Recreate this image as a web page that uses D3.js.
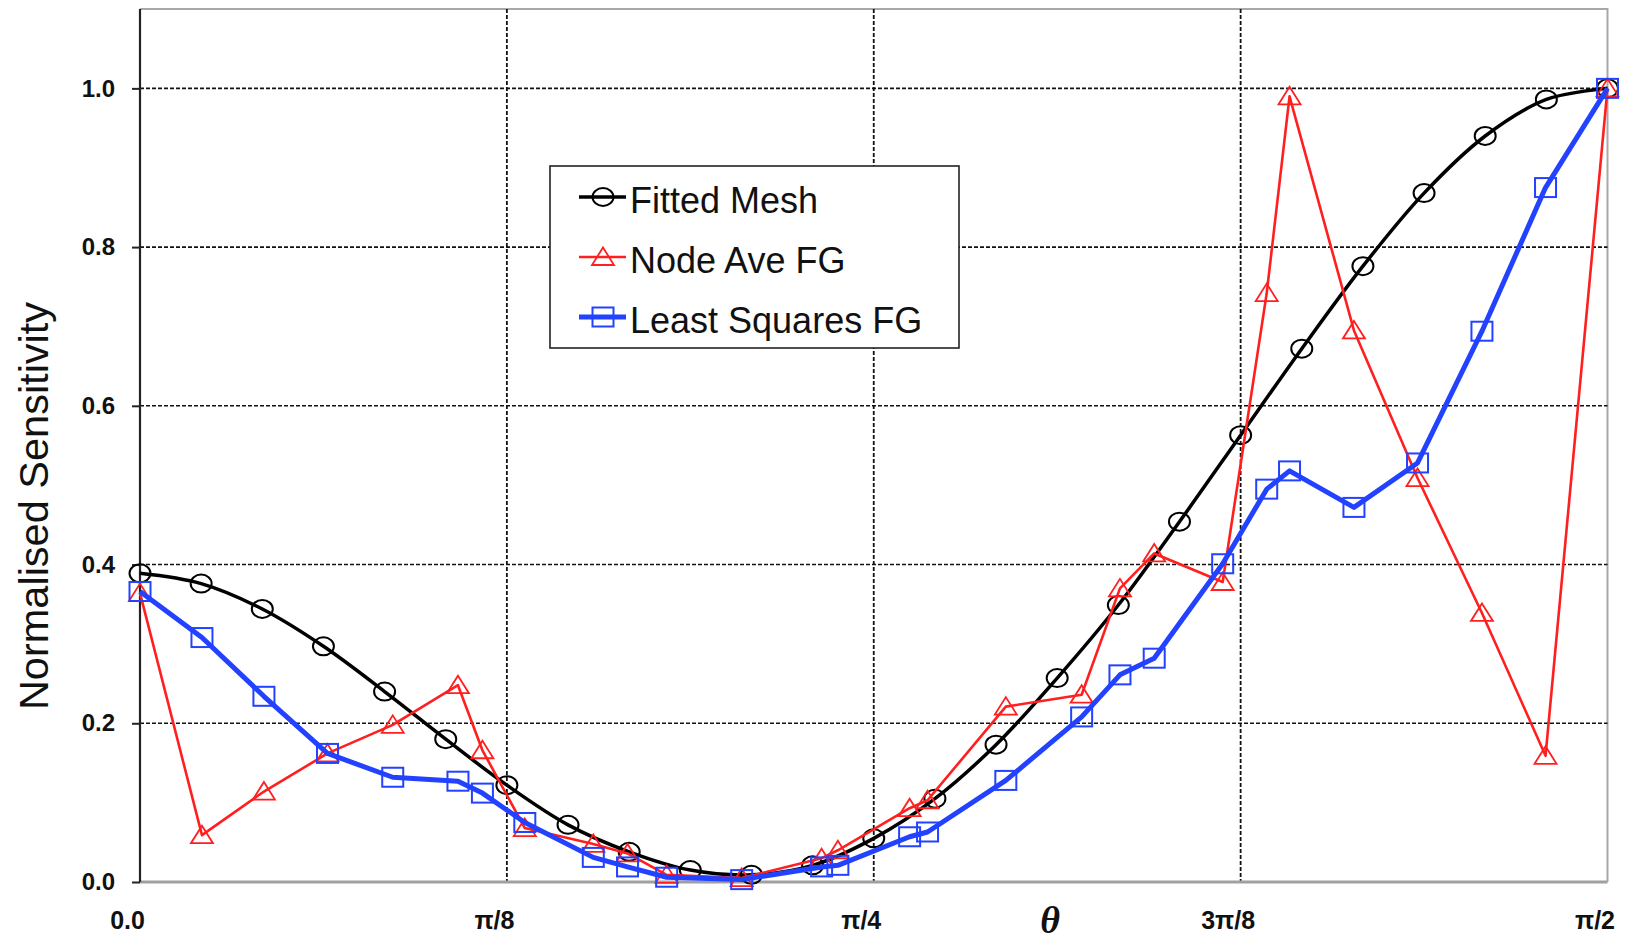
<!DOCTYPE html>
<html>
<head>
<meta charset="utf-8">
<script src="https://cdn.jsdelivr.net/npm/d3@7"></script>
<style>
  body { margin: 0; background: #fff; }
  svg { display: block; font-family: "Liberation Sans", Arial, sans-serif; }
</style>
</head>
<body>
<div id="chart"></div>
<script>
// theta in degrees (axis shows 0 .. pi/2)
var fittedTheta = [0, 3.75, 7.5, 11.25, 15, 18.75, 22.5, 26.25, 30, 33.75, 37.5, 41.25, 45,
    48.75, 52.5, 56.25, 60, 63.75, 67.5, 71.25, 75, 78.75, 82.5, 86.25, 90];
var fittedMesh = [0.389, 0.376, 0.344, 0.297, 0.240, 0.180, 0.122, 0.072, 0.038, 0.015, 0.009, 0.021, 0.055,
    0.105, 0.173, 0.257, 0.349, 0.454, 0.563, 0.672, 0.776, 0.868, 0.940, 0.986, 1.000];

var fgTheta = [0, 3.8, 7.6, 11.5, 15.5, 19.5, 21.0, 23.6, 27.8, 29.9, 32.3, 36.9, 41.8, 42.8,
    47.2, 48.3, 53.1, 57.75, 60.1, 62.2, 66.4, 69.1, 70.5, 74.45, 78.35, 82.3, 86.2, 90];
var nodeAve = [0.364, 0.059, 0.114, 0.162, 0.198, 0.248, 0.166, 0.068, 0.048, 0.036, 0.009, 0.005, 0.030, 0.040,
    0.093, 0.103, 0.221, 0.236, 0.370, 0.414, 0.378, 0.742, 0.990, 0.695, 0.509, 0.339, 0.159, 1.000];
var leastSquares = [0.366, 0.308, 0.234, 0.162, 0.132, 0.127, 0.112, 0.075, 0.031, 0.019, 0.006, 0.003, 0.019, 0.021,
    0.057, 0.063, 0.128, 0.208, 0.261, 0.282, 0.401, 0.495, 0.518, 0.472, 0.528, 0.694, 0.875, 1.000];

var xTickValues = [0, 22.5, 45, 67.5, 90];
var xTickLabels = ["0.0", "\u03c0/8", "\u03c0/4", "3\u03c0/8", "\u03c0/2"];
var yTickValues = [0, 0.2, 0.4, 0.6, 0.8, 1.0];
var seriesNames = ["Fitted Mesh", "Node Ave FG", "Least Squares FG"];

var W = 1642, H = 941;
var margin = {top: 9, right: 34.5, bottom: 59, left: 140};
var width = W - margin.left - margin.right,
    height = H - margin.top - margin.bottom;

var x = d3.scaleLinear().domain([0, 90]).range([0, width]);
var y = d3.scaleLinear().domain([0, 1.1]).range([height, 0]);

var svg = d3.select("#chart").append("svg")
    .attr("width", W)
    .attr("height", H);
var g = svg.append("g")
    .attr("transform", "translate(" + margin.left + "," + margin.top + ")");

// plot frame (top / right)
g.append("path")
    .attr("d", "M0,0H" + width + "V" + height)
    .attr("fill", "none")
    .attr("stroke", "#a8a8a8")
    .attr("stroke-width", 2);

// horizontal gridlines
g.selectAll(".hgrid").data(yTickValues.slice(1)).enter().append("line")
    .attr("x1", 0).attr("x2", width)
    .attr("y1", function(d) { return y(d); })
    .attr("y2", function(d) { return y(d); })
    .attr("stroke", "#111")
    .attr("stroke-width", 1.6)
    .attr("stroke-dasharray", "4,2");

// vertical gridlines
g.selectAll(".vgrid").data(xTickValues.slice(1, 4)).enter().append("line")
    .attr("x1", function(d) { return x(d); })
    .attr("x2", function(d) { return x(d); })
    .attr("y1", 0).attr("y2", height)
    .attr("stroke", "#111")
    .attr("stroke-width", 1.8)
    .attr("stroke-dasharray", "4,2");

// bottom axis line
g.append("line")
    .attr("x1", 0).attr("x2", width)
    .attr("y1", height).attr("y2", height)
    .attr("stroke", "#a0a0a0")
    .attr("stroke-width", 3);

// y axis
var yAxis = g.append("g")
    .call(d3.axisLeft(y).tickValues(yTickValues).tickFormat(d3.format(".1f")).tickSize(8).tickPadding(17));
yAxis.select(".domain")
    .attr("d", "M0," + y(1.1) + "V" + height)
    .attr("stroke", "#222")
    .attr("stroke-width", 2.2);
yAxis.selectAll(".tick line").attr("stroke", "#222").attr("stroke-width", 2);
yAxis.selectAll(".tick text")
    .attr("font-family", "Liberation Sans, Arial, sans-serif")
    .attr("font-size", 24)
    .attr("font-weight", "bold")
    .attr("fill", "#111");

// x axis labels
var xAxis = g.append("g")
    .attr("transform", "translate(0," + height + ")")
    .call(d3.axisBottom(x).tickValues(xTickValues)
        .tickFormat(function(d, i) { return xTickLabels[i]; })
        .tickSize(0).tickPadding(29));
xAxis.select(".domain").remove();
xAxis.selectAll(".tick text")
    .attr("dx", -13)
    .attr("font-family", "Liberation Sans, Arial, sans-serif")
    .attr("font-size", 25)
    .attr("font-weight", "bold")
    .attr("fill", "#111");

// axis titles
svg.append("text")
    .attr("transform", "translate(48,506) rotate(-90)")
    .attr("text-anchor", "middle")
    .attr("font-size", 41.5)
    .attr("fill", "#111")
    .text("Normalised Sensitivity");

svg.append("text")
    .attr("x", 1050).attr("y", 933)
    .attr("text-anchor", "middle")
    .attr("font-family", "Liberation Serif, Times New Roman, serif")
    .attr("font-style", "italic")
    .attr("font-weight", "bold")
    .attr("font-size", 38)
    .attr("fill", "#111")
    .text("\u03b8");

// series
var fitted = fittedTheta.map(function(t, i) { return {t: t, v: fittedMesh[i]}; });
var node = fgTheta.map(function(t, i) { return {t: t, v: nodeAve[i]}; });
var lsq = fgTheta.map(function(t, i) { return {t: t, v: leastSquares[i]}; });

var smoothLine = d3.line()
    .x(function(d) { return x(d.t); })
    .y(function(d) { return y(d.v); })
    .curve(d3.curveCatmullRom.alpha(0.5));
var straightLine = d3.line()
    .x(function(d) { return x(d.t); })
    .y(function(d) { return y(d.v); });

var black = "#000", red = "#ff1f1f", blue = "#2242ff";

function circleMarker(sel) {
    sel.append("ellipse").attr("rx", 10.5).attr("ry", 9)
        .attr("fill", "none").attr("stroke", black).attr("stroke-width", 2);
}
function triangleMarker(sel) {
    sel.append("path").attr("d", "M0,-9.5L11,8H-11Z")
        .attr("fill", "none").attr("stroke", red).attr("stroke-width", 1.8);
}
function squareMarker(sel) {
    sel.append("rect").attr("x", -10.5).attr("y", -9.5).attr("width", 21).attr("height", 19)
        .attr("fill", "none").attr("stroke", blue).attr("stroke-width", 2);
}

function drawSeries(data, line, color, lw, marker) {
    g.append("path").datum(data)
        .attr("d", line)
        .attr("fill", "none")
        .attr("stroke", color)
        .attr("stroke-width", lw)
        .attr("stroke-linejoin", "round");
    g.selectAll(null).data(data).enter().append("g")
        .attr("transform", function(d) { return "translate(" + x(d.t) + "," + y(d.v) + ")"; })
        .call(marker);
}

drawSeries(fitted, smoothLine, black, 3.5, circleMarker);
drawSeries(node, straightLine, red, 2.6, triangleMarker);
drawSeries(lsq, straightLine, blue, 5, squareMarker);

// legend
var legend = svg.append("g").attr("transform", "translate(550,166)");
legend.append("rect")
    .attr("width", 409).attr("height", 182)
    .attr("fill", "#fff")
    .attr("stroke", "#222")
    .attr("stroke-width", 1.6);

var legendItems = [
    {name: seriesNames[0], color: black, lw: 3.5, marker: circleMarker},
    {name: seriesNames[1], color: red, lw: 2.6, marker: triangleMarker},
    {name: seriesNames[2], color: blue, lw: 5, marker: squareMarker}
];
legendItems.forEach(function(item, i) {
    var row = legend.append("g").attr("transform", "translate(0," + (31 + i * 60) + ")");
    row.append("line")
        .attr("x1", 29).attr("x2", 76)
        .attr("stroke", item.color)
        .attr("stroke-width", item.lw);
    row.append("g").attr("transform", "translate(53,0)").call(item.marker);
    row.append("text")
        .attr("x", 80).attr("y", 16)
        .attr("font-size", 36)
        .attr("fill", "#111")
        .text(item.name);
});
</script>
</body>
</html>
